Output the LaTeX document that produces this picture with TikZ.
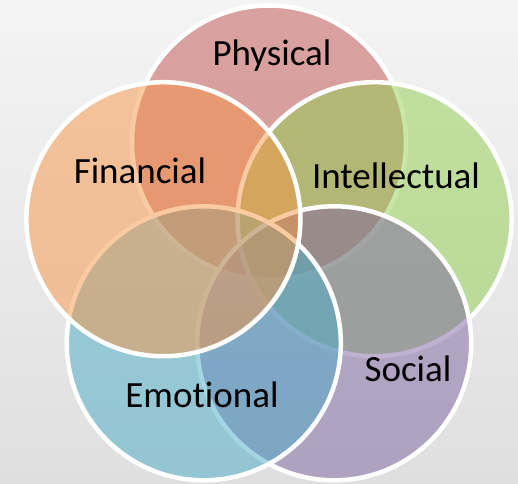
\documentclass[tikz,border=0pt]{standalone}
\usepackage{fontspec}
\setmainfont{Carlito}[Ligatures=NoCommon]
\definecolor{cphys}{HTML}{C0504D}
\definecolor{cintel}{HTML}{92D050}
\definecolor{csoc}{HTML}{8064A2}
\definecolor{cemo}{HTML}{4BACC6}
\definecolor{cfin}{HTML}{F79646}
\definecolor{bgtop}{HTML}{F4F4F4}
\definecolor{bgbot}{HTML}{DFDFDF}
\begin{document}
\begin{tikzpicture}[x=1pt,y=-1pt,
  ring/.style={circle, inner sep=0pt, minimum size=274pt, fill=#1,
    fill opacity=0.5, draw=white, draw opacity=1, line width=4.5pt},
  lab/.style={anchor=base, inner sep=0pt, font=\fontsize{37}{40}\selectfont, text=black}]
\useasboundingbox (0,0) rectangle (518,483);
\shade[top color=bgtop, bottom color=bgbot] (0,0) rectangle (518,483);
\node[ring=cphys]  (phys)  at (269,142.5) {};
\node[ring=cintel] (intel) at (374.6,219.2) {};
\node[ring=csoc]   (soc)   at (334.2,343.3) {};
\node[ring=cemo]   (emo)   at (203.8,343.3) {};
\node[ring=cfin]   (fin)   at (163.4,219.2) {};
\node[lab] (tphys)  at (272,65)  {Physical};
\node[lab] (tfin)   at (140,183) {Financial};
\node[lab] (tintel) at (396,188) {Intellectual};
\node[lab] (tsoc)   at (408,381) {Social};
\node[lab] (temo)   at (202,407) {Emotional};
\end{tikzpicture}
\end{document}
